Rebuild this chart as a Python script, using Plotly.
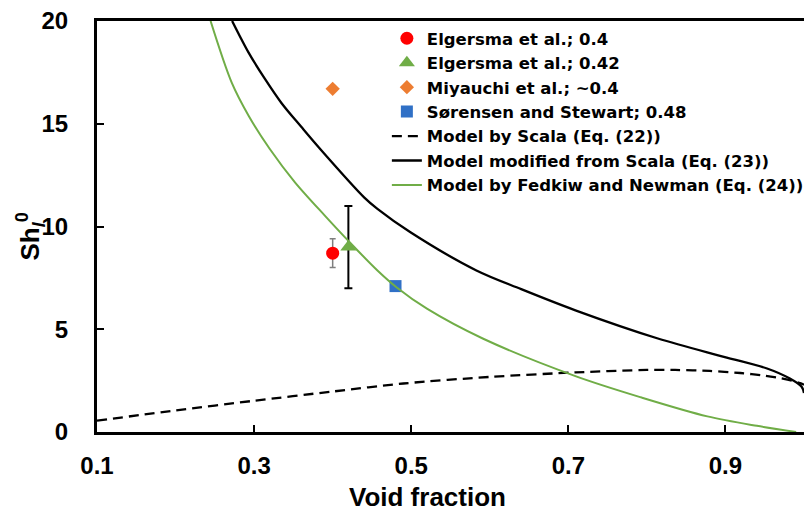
import plotly.graph_objects as go

# Experimental data
elg04_x = [0.40]; elg04_y = [8.7]; elg04_err = [0.7]
elg042_x = [0.42]; elg042_y = [9.0]; elg042_err = [2.0]
miy_x = [0.40]; miy_y = [16.7]
sor_x = [0.48]; sor_y = [7.1]

# Model curves
scala_x = [0.10, 0.20, 0.30, 0.40, 0.49, 0.60, 0.709, 0.80, 0.836, 0.88, 0.919, 0.95, 0.970, 0.985, 0.995, 1.0]
scala_y = [0.55, 1.05, 1.52, 1.97, 2.36, 2.68, 2.90, 3.02, 3.02, 2.97, 2.87, 2.74, 2.62, 2.50, 2.38, 2.30]

mod_x = [0.272, 0.293, 0.314, 0.335, 0.360, 0.383, 0.440, 0.457, 0.499, 0.583, 0.640, 0.709, 0.814, 0.898, 0.953, 0.982, 0.997, 1.0]
mod_y = [20.0, 18.46, 17.17, 16.0, 14.85, 13.82, 11.42, 10.86, 9.72, 7.86, 6.95, 5.92, 4.55, 3.66, 3.09, 2.6, 2.2, 1.9]

fed_x = [0.2446, 0.2715, 0.293, 0.320, 0.352, 0.390, 0.420, 0.457, 0.482, 0.520, 0.591, 0.709, 0.793, 0.877, 0.94, 0.99]
fed_y = [20.0, 17.0, 15.39, 13.77, 12.15, 10.53, 9.3, 7.86, 7.02, 6.0, 4.55, 2.72, 1.68, 0.76, 0.3, 0.0]

x_ticks = [0.1, 0.3, 0.5, 0.7, 0.9]
y_ticks = [0, 5, 10, 15, 20]
x_title = "Void fraction"
y_title = "Sh<sub><i>l</i></sub><sup>0</sup>"

fig = go.Figure()
fig.add_trace(go.Scatter(x=elg04_x, y=elg04_y, mode="markers", name="Elgersma et al.; 0.4",
                         marker=dict(symbol="circle", size=13, color="#FF0000"),
                         error_y=dict(type="data", array=elg04_err, color="#7F7F7F", thickness=1.5, width=3)))
fig.add_trace(go.Scatter(x=elg042_x, y=elg042_y, mode="markers", name="Elgersma et al.; 0.42",
                         marker=dict(symbol="triangle-up", size=14, color="#70AD47"),
                         error_y=dict(type="data", array=elg042_err, color="#000000", thickness=2, width=4)))
fig.add_trace(go.Scatter(x=miy_x, y=miy_y, mode="markers", name="Miyauchi et al.; ~0.4",
                         marker=dict(symbol="diamond", size=11, color="#ED7D31")))
fig.add_trace(go.Scatter(x=sor_x, y=sor_y, mode="markers", name="Sørensen and Stewart; 0.48",
                         marker=dict(symbol="square", size=12, color="#3070C6")))
fig.add_trace(go.Scatter(x=scala_x, y=scala_y, mode="lines", name="Model by Scala (Eq. (22))",
                         line=dict(color="black", width=2.3, dash="10px,6px", shape="spline", smoothing=0.8)))
fig.add_trace(go.Scatter(x=mod_x, y=mod_y, mode="lines", name="Model modified from Scala (Eq. (23))",
                         line=dict(color="black", width=2.3, shape="spline", smoothing=0.9)))
fig.add_trace(go.Scatter(x=fed_x, y=fed_y, mode="lines", name="Model by Fedkiw and Newman (Eq. (24))",
                         line=dict(color="#70AD47", width=2, shape="spline", smoothing=0.9)))

FAM = "Liberation Sans, Arial, sans-serif"

fig.update_layout(
    width=810, height=515,
    margin=dict(l=97, r=1, t=21, b=83),
    plot_bgcolor="white", paper_bgcolor="white",
    font=dict(family=FAM, size=24, color="black"),
    showlegend=True,
    legend=dict(x=0.410, y=1.0, xanchor="left", yanchor="top",
                font=dict(family="DejaVu Sans, sans-serif", size=16.5, color="black", weight="bold"),
                bgcolor="rgba(0,0,0,0)", tracegroupgap=0),
    xaxis=dict(range=[0.1, 1.0], tickvals=x_ticks, ticktext=[str(v) for v in x_ticks],
               showline=True, linecolor="black", linewidth=3, mirror=True,
               ticks="inside", ticklen=7, tickwidth=2, tickcolor="black",
               showgrid=False, zeroline=False, ticklabelstandoff=10, automargin=False,
               tickfont=dict(family=FAM, size=24, weight="bold")),
    yaxis=dict(range=[0, 20], tickvals=y_ticks,
               showline=True, linecolor="black", linewidth=3,
               ticks="inside", ticklen=7, tickwidth=2, tickcolor="black",
               showgrid=False, zeroline=False, ticklabelstandoff=21, automargin=False,
               tickfont=dict(family=FAM, size=24, weight="bold")),
    annotations=[
        dict(text="<b>" + x_title + "</b>", xref="paper", yref="paper",
             x=(430 - 97) / 712, y=(432 - 497) / 411, xanchor="center", yanchor="middle",
             showarrow=False, font=dict(family=FAM, size=26, color="black")),
        dict(text="<b>" + y_title + "</b>", xref="paper", yref="paper",
             x=(30 - 97) / 712, y=(432 - 236) / 411, xanchor="center", yanchor="middle",
             textangle=-90, showarrow=False, font=dict(family=FAM, size=26, color="black")),
    ],
)

fig.write_html("out.html", config={"displayModeBar": False},
               post_script="document.body.style.margin='0';document.body.style.padding='0';")
